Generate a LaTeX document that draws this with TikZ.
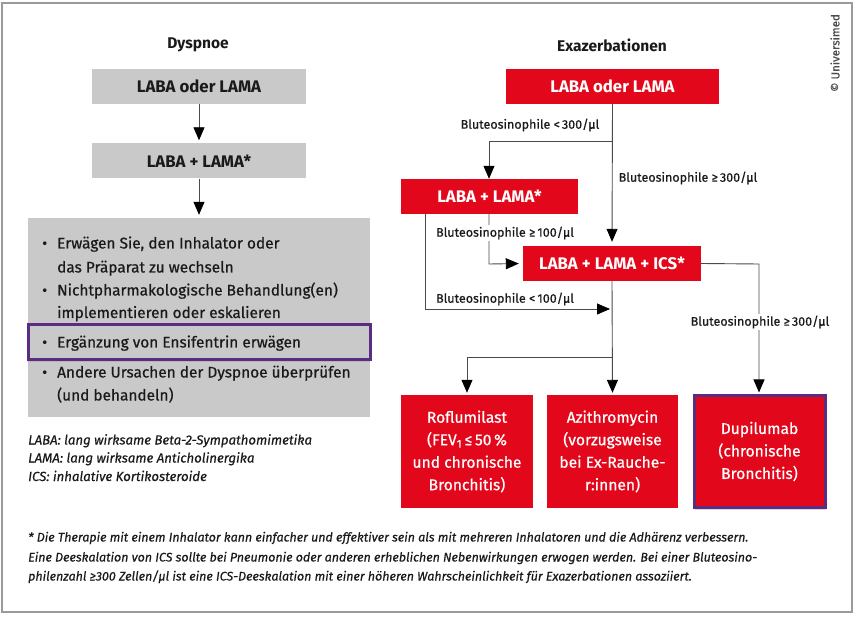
\documentclass[tikz,border=0pt]{standalone}
\usepackage{fontspec}
\setmainfont{Fira Sans}[UprightFeatures={FakeBold=0.6}, ItalicFeatures={FakeBold=0.5}]
\usetikzlibrary{arrows.meta,shadows}
\definecolor{myred}{HTML}{E2071A}
\definecolor{mygray}{HTML}{C9C9C9}
\definecolor{mypurple}{HTML}{5A2D82}
\definecolor{framegray}{HTML}{9A9A9A}
\definecolor{lineg}{HTML}{4A4A4A}
\definecolor{txt}{HTML}{1A1A1A}
\tikzset{
  boxbase/.style={inner sep=0pt, align=center},
  graybox/.style={boxbase, fill=mygray, text=txt, font=\bfseries\fontsize{16.8}{19}\selectfont},
  redbox/.style={boxbase, fill=myred, text=white, font=\bfseries\fontsize{16.8}{19}\selectfont},
  redbig/.style={boxbase, fill=myred, text=white, font=\fontsize{15.6}{22.5}\selectfont},
  titletext/.style={inner sep=0pt, text=txt, font=\bfseries\fontsize{15.5}{18}\selectfont},
  bullettext/.style={inner sep=0pt, anchor=base west, text=txt, font=\fontsize{15.4}{19}\selectfont},
  abbrtext/.style={inner sep=0pt, anchor=base west, text=txt, font=\itshape\fontsize{13.2}{15}\selectfont},
  foottext/.style={inner sep=0pt, anchor=base west, text=txt, font=\itshape\fontsize{12.45}{15}\selectfont},
  lab/.style={inner sep=1.5pt, fill=white, text=txt, font=\fontsize{12.5}{15}\selectfont},
  conn/.style={draw=lineg, line width=0.9pt},
  arr/.style={conn, -{Triangle[length=13pt,width=11pt,color=black]}},
}
\begin{document}
\begin{tikzpicture}[x=1pt,y=-1pt]
\useasboundingbox (0,0) rectangle (854,617);
\fill[white] (0,0) rectangle (854,617);
\draw[framegray, line width=1.2pt] (2,3) rectangle (852,612);

% copyright
\node[rotate=90, inner sep=0pt, text=black!70, font=\fontsize{11.5}{13}\selectfont] (copy) at (835,53) {© Universimed};

% titles
\node[titletext] (tL) at (198,45) {Dyspnoe};
\node[titletext] (tR) at (612,45) {Exazerbationen};

% left column
\node[graybox, minimum width=214pt, minimum height=35pt] (gA) at (199,86.5) {LABA oder LAMA};
\node[graybox, minimum width=214pt, minimum height=35pt] (gB) at (199,161) {LABA + LAMA*};
\node[fill=mygray, inner sep=0pt, minimum width=342pt, minimum height=199pt] (gC) at (199,317.5) {};
\node[draw=mypurple, line width=3pt, fill=mygray, inner sep=0pt, minimum width=342pt, minimum height=35pt,
      drop shadow={opacity=0.25, shadow xshift=0pt, shadow yshift=-2pt}] (pur) at (199,342.5) {};

\draw[arr, shorten >=3pt] (gA) -- (gB);
\draw[arr, shorten >=3pt] (gB) -- (gC);

\node[bullettext] (b1) at (42,248.5) {•};
\node[bullettext] (l1) at (57,248.5) {Erwägen Sie, den Inhalator oder};
\node[bullettext] (l2) at (57,272.5) {das Präparat zu wechseln};
\node[bullettext] (b2) at (42,295.5) {•};
\node[bullettext] (l3) at (57,295.5) {Nichtpharmakologische Behandlung(en)};
\node[bullettext] (l4) at (57,318) {implementieren oder eskalieren};
\node[bullettext] (b3) at (42,347.5) {•};
\node[bullettext] (l5) at (57,347.5) {Ergänzung von Ensifentrin erwägen};
\node[bullettext] (b4) at (42,377.5) {•};
\node[bullettext] (l6) at (57,377.5) {Andere Ursachen der Dyspnoe überprüfen};
\node[bullettext] (l7) at (57,400.5) {(und behandeln)};

\node[abbrtext] (a1) at (28,444.5) {LABA: lang wirksame Beta-2-Sympathomimetika};
\node[abbrtext] (a2) at (28,462.5) {LAMA: lang wirksame Anticholinergika};
\node[abbrtext] (a3) at (28,481) {ICS: inhalative Kortikosteroide};

% right column
\node[redbox, minimum width=213pt, minimum height=35pt] (r1) at (612.5,86.5) {LABA oder LAMA};
\node[redbox, minimum width=177pt, minimum height=35pt] (r2) at (489.5,196.5) {LABA + LAMA*};
\node[redbox, minimum width=178pt, minimum height=35pt] (r3) at (612,263.5) {LABA + LAMA + ICS*};
\node[redbig, minimum width=132pt, minimum height=113pt] (r4) at (467,451.5)
   {Roflumilast\\(FEV\textsubscript{1}\,≤\,50\,\%\\und chronische\\Bronchitis)};
\node[redbig, minimum width=131pt, minimum height=113pt] (r5) at (612.5,451.5)
   {Azithromycin\\(vorzugsweise\\bei Ex-Rauche-\\r:innen)};
\node[redbig, draw=mypurple, line width=3pt, minimum width=131pt, minimum height=111pt,
      drop shadow={opacity=0.3, shadow xshift=1pt, shadow yshift=-3pt}] (r6) at (759.5,451.5)
   {Dupilumab\\(chronische\\Bronchitis)};

% connectors
\coordinate (c1) at (612,141);
\coordinate (c1l) at (489,141);
\coordinate (c2) at (489,264);
\coordinate (c3) at (425,309);
\coordinate (c3r) at (612,309);
\coordinate (c4) at (612,357);
\coordinate (c4l) at (467,357);
\coordinate (c5) at (759,264);

\draw[arr, shorten >=4pt] (r1.south) -- (r3.north);
\draw[arr] (c1) -- (c1l) -- (r2.north -| c1l);
\draw[arr, shorten >=4pt] (r2.south -| c2) -- (c2) -- (r3.west);
\draw[arr, shorten >=2pt] (r2.south -| c3) -- (c3) -- (c3r);
\draw[arr, shorten >=2pt] (r3.south) -- (r5.north);
\draw[arr, shorten >=2pt] (c4) -- (c4l) -- (r4.north -| c4l);
\draw[arr, shorten >=2pt] (r3.east) -- (c5) -- (r6.north -| c5);

% labels
\node[lab] (L1) at (530,125) {Bluteosinophile <\,300/µl};
\node[lab] (L2) at (688,178) {Bluteosinophile ≥\,300/µl};
\node[lab] (L3) at (505,233) {Bluteosinophile ≥\,100/µl};
\node[lab] (L4) at (505,299) {Bluteosinophile <\,100/µl};
\node[lab] (L5) at (760,322) {Bluteosinophile ≥\,300/µl};

% footnote
\node[foottext] (f1) at (28,541.5) {* Die Therapie mit einem Inhalator kann einfacher und effektiver sein als mit mehreren Inhalatoren und die Adhärenz verbessern.};
\node[foottext] (f2) at (28,561.5) {Eine Deeskalation von ICS sollte bei Pneumonie oder anderen erheblichen Nebenwirkungen erwogen werden. Bei einer Bluteosino-};
\node[foottext] (f3) at (28,580.5) {philenzahl ≥300 Zellen/µl ist eine ICS-Deeskalation mit einer höheren Wahrscheinlichkeit für Exazerbationen assoziiert.};
\end{tikzpicture}
\end{document}
